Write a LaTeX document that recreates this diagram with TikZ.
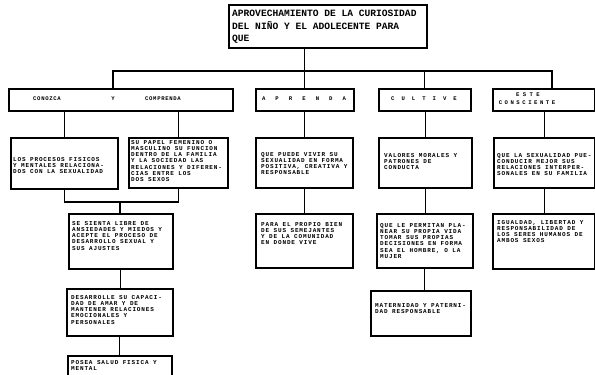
\documentclass[tikz,border=0pt]{standalone}
\usepackage{fontspec}
\newfontfamily\monofam{Liberation Mono}
\newfontfamily\boxmono[LetterSpace=14]{Liberation Mono}
\newcommand\boxfnt{\boxmono\bfseries\fontsize{6}{6.2}\selectfont}
\newcommand\topfnt{\monofam\bfseries\fontsize{9.6}{12.5}\selectfont}
\newcommand\hdfnt{\monofam\bfseries\fontsize{5.6}{7.5}\selectfont}
\newcommand\frm[5]{\node[frame, minimum width=#4pt, minimum height=#5pt] (#1) at (#2,#3) {};}
\tikzset{
  frame/.style={draw, line width=1.6pt, inner sep=0pt, anchor=north west},
  txt/.style={inner sep=0pt, anchor=north west, align=left, font=\boxfnt},
  hd/.style={inner sep=0pt, anchor=center, align=center, font=\hdfnt},
  link/.style={line width=1.3pt},
}
\begin{document}
\begin{tikzpicture}[x=1pt,y=-1pt]
\useasboundingbox (0,0) rectangle (595,375);
\clip (0,0) rectangle (595,375);
% frames
\frm{top}{228}{4}{198}{43}
\frm{La}{8}{88}{224}{22}
\frm{Lb}{255}{88}{98}{22}
\frm{Lc}{378}{88}{92}{22}
\frm{Ld}{492}{88}{102}{22}
\frm{A}{10}{137}{107}{51}
\frm{B}{128}{137}{99}{50}
\frm{F}{255}{137}{97}{50}
\frm{H}{378}{137}{93}{50}
\frm{K}{493}{137}{101}{50}
\frm{C}{68}{213}{104}{55}
\frm{G}{255}{213}{97}{54}
\frm{I}{376}{213}{96}{54}
\frm{L}{492}{213}{102}{55}
\frm{D}{66}{288}{106}{47}
\frm{J}{370}{290}{100}{45}
\frm{E}{67}{355}{104}{35}
% texts
\node[txt, font=\topfnt] (ttop) at (232,10) {APROVECHAMIENTO DE LA CURIOSIDAD\\DEL NIÑO Y EL ADOLECENTE PARA\\QUE};
\node[hd] (ha1) at (47,99) {\addfontfeature{LetterSpace=12}CONOZCA};
\node[hd] (ha2) at (113,99) {Y};
\node[hd] (ha3) at (163,99) {\addfontfeature{LetterSpace=12}COMPRENDA};
\node[hd] (hb) at (304,99) {\addfontfeature{LetterSpace=180}APRENDA};
\node[hd] (hc) at (424,99) {\addfontfeature{LetterSpace=125}CULTIVE};
\node[hd] (hd1) at (528,95) {\addfontfeature{LetterSpace=60}ESTE};
\node[hd] (hd2) at (527,103) {\addfontfeature{LetterSpace=45}CONSCIENTE};
\node[txt] (tA) at (13,157) {LOS PROCESOS FISICOS\\Y MENTALES RELACIONA-\\DOS CON LA SEXUALIDAD};
\node[txt] (tB) at (131,140) {SU PAPEL FEMENINO O\\MASCULINO SU FUNCION\\DENTRO DE LA FAMILIA\\Y LA SOCIEDAD LAS\\RELACIONES Y DIFEREN-\\CIAS ENTRE LOS\\DOS SEXOS};
\node[txt] (tF) at (261,152) {QUE PUEDE VIVIR SU\\SEXUALIDAD EN FORMA\\POSITIVA, CREATIVA Y\\RESPONSABLE};
\node[txt] (tH) at (384,153) {VALORES MORALES Y\\PATRONES DE\\CONDUCTA};
\node[txt] (tK) at (497,153) {QUE LA SEXUALIDAD PUE-\\CONDUCIR MEJOR SUS\\RELACIONES INTERPER-\\SONALES EN SU FAMILIA};
\node[txt] (tC) at (72,221) {SE SIENTA LIBRE DE\\ANSIEDADES Y MIEDOS Y\\ACEPTE EL PROCESO DE\\DESARROLLO SEXUAL Y\\SUS AJUSTES};
\node[txt] (tG) at (261,222) {PARA EL PROPIO BIEN\\DE SUS SEMEJANTES\\Y DE LA COMUNIDAD\\EN DONDE VIVE};
\node[txt] (tI) at (380,223) {QUE LE PERMITAN PLA-\\NEAR SU PROPIA VIDA\\TOMAR SUS PROPIAS\\DECISIONES EN FORMA\\SEA EL HOMBRE, O LA\\MUJER};
\node[txt] (tL) at (497,220) {IGUALDAD, LIBERTAD Y\\RESPONSABILIDAD DE\\LOS SERES HUMANOS DE\\AMBOS SEXOS};
\node[txt] (tD) at (71,295) {DESARROLLE SU CAPACI-\\DAD DE AMAR Y DE\\MANTENER RELACIONES\\EMOCIONALES Y\\PERSONALES};
\node[txt] (tJ) at (375,303) {MATERNIDAD Y PATERNI-\\DAD RESPONSABLE};
\node[txt] (tE) at (71,360) {POSEA SALUD FISICA Y\\MENTAL};
% connectors
\coordinate (busL) at (113,71);
\coordinate (busR) at (552,71);
\coordinate (join) at (120,202);
\draw[link] (busL |- La.north) -- (busL) -- (busR) -- (busR |- Ld.north);
\draw[link] (Lb.north |- top.south) -- (Lb.north);
\draw[link] (Lc.north) -- (Lc.north |- busL);
\draw[link] (A.north) -- (A.north |- La.south);
\draw[link] (B.north) -- (B.north |- La.south);
\draw[link] (A.south) -- (A.south |- join) -- (B.south |- join) -- (B.south);
\draw[link] (join) -- (join |- C.north);
\draw[link] (C.south) -- (C.south |- D.north);
\draw[link] (D.south) -- (D.south |- E.north);
\draw[link] (F.north) -- (F.north |- Lb.south);
\draw[link] (F.south) -- (F.south |- G.north);
\draw[link] (H.north) -- (H.north |- Lc.south);
\draw[link] (H.south) -- (H.south |- I.north);
\draw[link] (I.south) -- (I.south |- J.north);
\draw[link] (K.north) -- (K.north |- Ld.south);
\draw[link] (K.south) -- (K.south |- L.north);
\end{tikzpicture}
\end{document}
